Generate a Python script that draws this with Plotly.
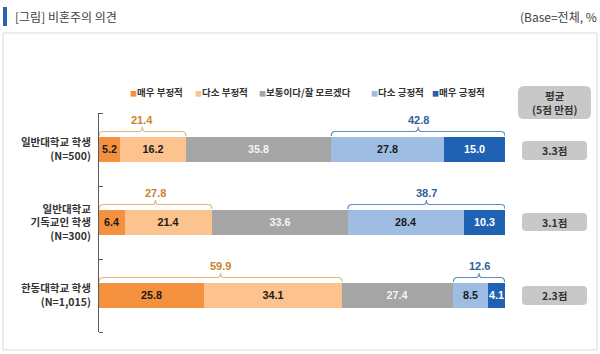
import plotly.graph_objects as go

# ---------------- data ----------------
rows = ["일반대학교 학생<br>(N=500)", "일반대학교<br>기독교인 학생<br>(N=300)", "한동대학교 학생<br>(N=1,015)"]
series_names = ["매우 부정적", "다소 부정적", "보통이다/잘 모르겠다", "다소 긍정적", "매우 긍정적"]
very_neg = [5.2, 6.4, 25.8]
some_neg = [16.2, 21.4, 34.1]
neutral = [35.8, 33.6, 27.4]
some_pos = [27.8, 28.4, 8.5]
very_pos = [15.0, 10.3, 4.1]
averages = ["3.3점", "3.1점", "2.3점"]

series_values = [very_neg, some_neg, neutral, some_pos, very_pos]
colors = ["#f4913f", "#fcc38f", "#a5a5a5", "#9fbde3", "#1f62b3"]
text_colors = ["#1a1a1a", "#1a1a1a", "#f4f4f4", "#1a1a1a", "#ffffff"]

W, H = 600, 354
KFONT = "Malgun Gothic, Noto Sans CJK KR, sans-serif"
NFONT = "Arial, Liberation Sans, sans-serif"

def px(x):
    return x / W

def py(y):
    return 1 - y / H

yidx = list(range(len(rows)))
fig = go.Figure()
for name, vals, c, tc in zip(series_names, series_values, colors, text_colors):
    fig.add_trace(go.Bar(
        y=yidx, x=vals, orientation="h", name=name, width=0.356,
        marker=dict(color=c, line=dict(width=0)),
        text=[f"{v:.1f}" for v in vals], textposition="inside",
        insidetextanchor="middle", textangle=0,
        textfont=dict(family=NFONT, size=11, color=tc, weight="bold"),
        showlegend=False,
    ))

shapes = []
annotations = []

# frame & title marker
shapes.append(dict(type="rect", xref="paper", yref="paper", x0=px(3), x1=px(597), y0=py(350), y1=py(33),
                   line=dict(color="#d9d9d9", width=1)))
shapes.append(dict(type="rect", xref="paper", yref="paper", x0=px(3), x1=px(7), y0=py(26), y1=py(7),
                   line=dict(width=0), fillcolor="#2a64ae"))
annotations.append(dict(xref="paper", yref="paper", x=px(13), y=py(16.5), xanchor="left", yanchor="middle",
                        text="[그림] 비혼주의 의견", showarrow=False,
                        font=dict(family=KFONT, size=12, color="#404040")))
annotations.append(dict(xref="paper", yref="paper", x=px(599), y=py(16.5), xanchor="right", yanchor="middle",
                        text="(Base=전체, %", showarrow=False,
                        font=dict(family=KFONT, size=12, color="#404040")))

# legend (annotations)
leg_x = [128, 193, 257, 369, 430]
for name, c, lx in zip(series_names, colors, leg_x):
    annotations.append(dict(xref="paper", yref="paper", x=px(lx), y=py(92), xanchor="left", yanchor="middle",
                            text=f"<span style='color:{c};font-size:7px'>■</span>{name}", showarrow=False,
                            font=dict(family=KFONT, size=9.5, color="#333333", weight="bold")))

# braces
half = 0.178
upx = 1 / 73.0
def brace(x0, x1, c, color):
    top = c - half - 0.5 * upx
    yl = c - half - 5 * upx
    yp = c - half - 9.5 * upx
    xm = (x0 + x1) / 2
    r = 1.0
    r2 = 0.8
    path = (f"M {x0},{top} Q {x0},{yl} {x0 + r},{yl} L {xm - r2},{yl} Q {xm},{yl} {xm},{yp} "
            f"Q {xm},{yl} {xm + r2},{yl} L {x1 - r},{yl} Q {x1},{yl} {x1},{top}")
    return dict(type="path", xref="x", yref="y", path=path, line=dict(color=color, width=1.2))

for i in yidx:
    neg = very_neg[i] + some_neg[i]
    pos = some_pos[i] + very_pos[i]
    total = sum(s[i] for s in series_values)
    end = min(total, 100.0)
    shapes.append(brace(0, neg, i, "#e3b67c"))
    shapes.append(brace(end - pos, end, i, "#5f8bbd"))
    ylab = i - half - 9.5 * upx
    annotations.append(dict(xref="x", yref="y", x=neg / 2, y=ylab, yanchor="bottom", xanchor="center",
                            text=f"{neg:.1f}", showarrow=False, yshift=-1,
                            font=dict(family=NFONT, size=11, color="#c9832f", weight="bold")))
    annotations.append(dict(xref="x", yref="y", x=end - pos / 2, y=ylab, yanchor="bottom", xanchor="center",
                            text=f"{pos:.1f}", showarrow=False, yshift=-1,
                            font=dict(family=NFONT, size=11, color="#2f6199", weight="bold")))

# average boxes
def rbox(x0, y0, x1, y1, r=4, color="#c8c8c8"):
    X0, X1 = px(x0), px(x1)
    Y0, Y1 = py(y0), py(y1)  # Y0 top (larger), Y1 bottom
    rx, ry = r / W, r / H
    path = (f"M {X0 + rx},{Y0} L {X1 - rx},{Y0} Q {X1},{Y0} {X1},{Y0 - ry} L {X1},{Y1 + ry} "
            f"Q {X1},{Y1} {X1 - rx},{Y1} L {X0 + rx},{Y1} Q {X0},{Y1} {X0},{Y1 + ry} "
            f"L {X0},{Y0 - ry} Q {X0},{Y0} {X0 + rx},{Y0} Z")
    return dict(type="path", xref="paper", yref="paper", path=path, fillcolor=color, line=dict(width=0))

shapes.append(rbox(518, 86, 591, 119, r=6))
annotations.append(dict(xref="paper", yref="paper", x=px(554.5), y=py(102.5), xanchor="center", yanchor="middle",
                        text="평균<br>(5점 만점)", showarrow=False,
                        font=dict(family=KFONT, size=10.5, color="#333333", weight="bold")))
box_y = [(141, 160), (213, 231), (286, 305)]
for (y0, y1), a in zip(box_y, averages):
    shapes.append(rbox(522, y0, 587, y1, r=4))
    annotations.append(dict(xref="paper", yref="paper", x=px(554.5), y=py((y0 + y1) / 2), xanchor="center",
                            yanchor="middle", text=a, showarrow=False,
                            font=dict(family=KFONT, size=10.5, color="#333333", weight="bold")))

fig.update_layout(
    width=W, height=H, margin=dict(l=0, r=0, t=0, b=0),
    paper_bgcolor="white", plot_bgcolor="white",
    barmode="stack", bargap=0,
    uniformtext=dict(minsize=10, mode="show"),
    shapes=shapes, annotations=annotations,
    xaxis=dict(domain=[99 / W, 505 / W], range=[0, 100], visible=False, fixedrange=True),
    yaxis=dict(domain=[1 - 332 / H, 1 - 113 / H], range=[2.5, -0.5], tickmode="array",
               tickvals=yidx, ticktext=rows, ticks="", showgrid=False, zeroline=False,
               showline=True, linecolor="#595959", linewidth=1,
               tickfont=dict(family=KFONT, size=10.5, color="#333333", weight="bold"),
               ticklabelstandoff=5,
               minor=dict(tickmode="array", tickvals=[-0.5, 0.5, 1.5, 2.5], ticks="inside",
                          ticklen=4, tickcolor="#595959", tickwidth=1, showgrid=False)),
)

fig.write_html("out.html")
